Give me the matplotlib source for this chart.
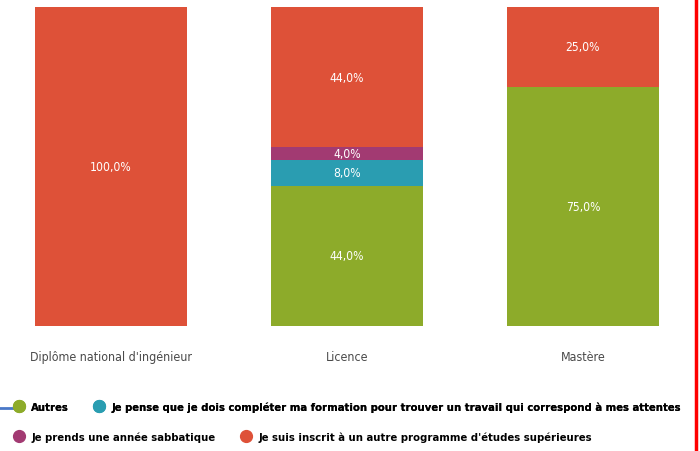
import matplotlib.pyplot as plt
from matplotlib.lines import Line2D

#### DATA ####

categories = ["Diplôme national d'ingénieur", "Licence", "Mastère"]
series = [
    "Autres",
    "Je pense que je dois compléter ma formation pour trouver un travail qui correspond à mes attentes",
    "Je prends une année sabbatique",
    "Je suis inscrit à un autre programme d'études supérieures",
]
values = {
    "Autres": [0, 44.0, 75.0],
    "Je pense que je dois compléter ma formation pour trouver un travail qui correspond à mes attentes": [0, 8.0, 0],
    "Je prends une année sabbatique": [0, 4.0, 0],
    "Je suis inscrit à un autre programme d'études supérieures": [100.0, 44.0, 25.0],
}
colors = ["#8dab2a", "#2a9db1", "#a23a72", "#de5138"]

#### PLOT ####

plt.rcParams['font.family'] = ['DejaVu Sans']
plt.rcParams['font.stretch'] = 'condensed'

fig = plt.figure(figsize=(7, 4.52), dpi=100)
ax = fig.add_axes([0, 125 / 452, 693 / 700, 319 / 452])

x = list(range(len(categories)))
bottoms = [0, 0, 0]
handles = []
for name, col in zip(series, colors):
    vals = values[name]
    bars = ax.bar(x, vals, width=0.64, bottom=bottoms, color=col)
    handles.append(Line2D([], [], marker="o", linestyle="", color=col, markersize=8.5))
    for i, v in enumerate(vals):
        if v > 0:
            ax.text(i, bottoms[i] + v / 2, ("%.1f%%" % v).replace(".", ","),
                    ha="center", va="center", color="white", fontsize=8.7)
    bottoms = [b + v for b, v in zip(bottoms, vals)]

ax.set_xlim(-111 / 236, (693 - 111) / 236)
ax.set_ylim(0, 100)
ax.set_xticks(x)
ax.set_xticklabels(categories, fontsize=8.9, color="#4a4a4a")
ax.tick_params(axis="x", length=0, pad=17)
ax.set_yticks([])
for s in ax.spines.values():
    s.set_visible(False)

legprops = {"weight": "bold", "size": 8.1, "stretch": "condensed"}
leg1 = fig.legend(handles[:2], series[:2], loc="center left", bbox_to_anchor=(12 / 700, 1 - 408 / 452),
                  ncol=2, frameon=False, handletextpad=0.5, columnspacing=2.1, handlelength=1.2,
                  prop=legprops, borderaxespad=0, borderpad=0)
fig.legend([handles[2], handles[3]], [series[2], series[3]], loc="center left",
           bbox_to_anchor=(12 / 700, 1 - 438 / 452), ncol=2, frameon=False, handletextpad=0.5,
           columnspacing=2.1, handlelength=1.2, prop=legprops,
           borderaxespad=0, borderpad=0)
fig.add_artist(leg1)

fig.add_artist(Line2D([696 / 700, 696 / 700], [0, 1], color="#ff0000", linewidth=2.5))
fig.add_artist(Line2D([0, 22 / 700], [1 - 409 / 452, 1 - 409 / 452], color="#4a78c8", linewidth=2))

plt.savefig("out.png", dpi=100)
